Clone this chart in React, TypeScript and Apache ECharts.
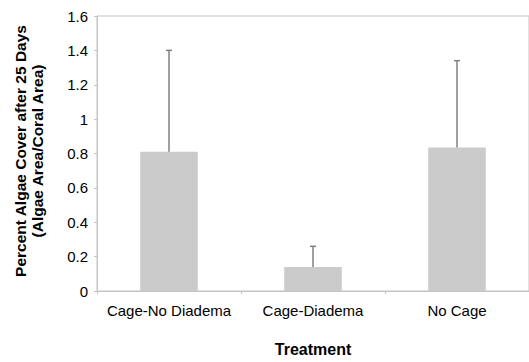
import React, { useEffect, useRef } from "react";
import * as echarts from "echarts";

const categories = ["Cage-No Diadema", "Cage-Diadema", "No Cage"];
const means = [0.81, 0.14, 0.835];
const upperErrors = [0.59, 0.12, 0.505];
const yTicks = { min: 0, max: 1.6, interval: 0.2 };

export default function App() {
  const ref = useRef<HTMLDivElement>(null);
  useEffect(() => {
    const chart = echarts.init(ref.current!, null, { renderer: "svg" });
    const font = "'Liberation Sans', Arial, Helvetica, sans-serif";
    chart.setOption({
      animation: false,
      textStyle: { fontFamily: font },
      grid: {
        left: 97,
        top: 16,
        width: 438,
        height: 278.7,
        show: true,
        borderColor: "#c4c4c4",
        borderWidth: 1,
        containLabel: false,
      },
      xAxis: {
        type: "category",
        data: categories,
        name: "Treatment",
        nameLocation: "middle",
        nameGap: 50,
        nameTextStyle: { fontSize: 16, fontWeight: "bold", color: "#000", fontFamily: font },
        axisLine: { show: true, lineStyle: { color: "#c4c4c4", width: 1 } },
        axisTick: { show: true, length: 3, lineStyle: { color: "#c4c4c4" } },
        axisLabel: { fontSize: 15, color: "#000", margin: 12, interval: 0, fontFamily: font },
      },
      yAxis: {
        type: "value",
        min: yTicks.min,
        max: yTicks.max,
        interval: yTicks.interval,
        name: "Percent Algae Cover after 25 Days\n(Algae Area/Coral Area)",
        nameLocation: "middle",
        nameRotate: 90,
        nameGap: 51,
        nameTextStyle: {
          fontSize: 15.5,
          fontWeight: "bold",
          color: "#000",
          lineHeight: 17,
          padding: [0, 0, 0, 5],
          fontFamily: font,
        },
        axisLine: { show: true, lineStyle: { color: "#c4c4c4", width: 1 } },
        axisTick: { show: true, length: 3, lineStyle: { color: "#c4c4c4" } },
        splitLine: { show: false },
        axisLabel: {
          fontSize: 15,
          color: "#000",
          margin: 9,
          fontFamily: font,
          formatter: (v: number) => String(Math.round(v * 10) / 10),
        },
      },
      series: [
        {
          type: "bar",
          data: means,
          barWidth: "40%",
          itemStyle: { color: "#cbcbcb" },
        },
        {
          type: "custom",
          data: means.map((m, i) => [i, m, m + upperErrors[i]]),
          renderItem: (params: any, api: any) => {
            const x = api.value(0);
            const base = api.coord([x, api.value(1)]);
            const top = api.coord([x, api.value(2)]);
            const cap = 3;
            const style = { stroke: "#808080", lineWidth: 1.5 };
            return {
              type: "group",
              children: [
                { type: "line", shape: { x1: base[0], y1: base[1], x2: top[0], y2: top[1] }, style },
                { type: "line", shape: { x1: top[0] - cap, y1: top[1], x2: top[0] + cap, y2: top[1] }, style },
              ],
            };
          },
          z: 3,
        },
      ],
    });
    return () => chart.dispose();
  }, []);
  return <div ref={ref} style={{ width: 529, height: 362, position: "absolute", left: 0, top: 0 }} />;
}
